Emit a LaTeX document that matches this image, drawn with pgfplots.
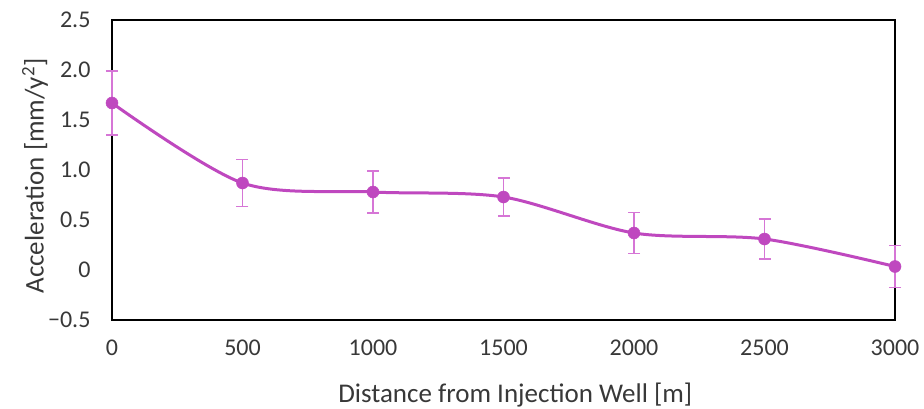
\documentclass[border=0pt]{standalone}
\usepackage{pgfplots}
\pgfplotsset{compat=1.18}
\usepackage{fontspec}
\setmainfont{Carlito}
\definecolor{curve}{RGB}{191,72,191}
\definecolor{errc}{RGB}{214,118,214}
\definecolor{txt}{RGB}{56,56,56}

\begin{document}
\begin{tikzpicture}
% fixed page frame around the plot area
\useasboundingbox (-112pt,-88pt) rectangle (812pt,320pt);
\begin{axis}[
  at={(0pt,0pt)}, anchor=south west,
  scale only axis, width=783pt, height=300pt,
  xmin=0, xmax=3000, ymin=-0.5, ymax=2.5,
  clip=false,
  xtick={0,500,1000,1500,2000,2500,3000},
  xticklabels={0,500,1000,1500,2000,2500,3000},
  ytick={-0.5,0,0.5,1,1.5,2,2.5},
  yticklabels={−0.5,0,0.5,1.0,1.5,2.0,2.5},
  major tick length=0pt,
  axis line style={black, line width=1.3pt},
  tick label style={font=\fontsize{24}{24}\selectfont, text=txt},
  xticklabel style={yshift=-16pt},
  yticklabel style={xshift=-18pt},
  xlabel={Distance from Injection Well [m]},
  ylabel={Acceleration [mm/y\textsuperscript{2}]},
  every axis x label/.style={at={(axis description cs:0.515,-0.25)}, anchor=center,
    font=\fontsize{27}{27}\selectfont, text=txt},
  every axis y label/.style={at={(axis description cs:-0.0983,0.48)}, anchor=center, rotate=90,
    font=\fontsize{27}{27}\selectfont, text=txt},
]
\addplot[curve, line width=3pt, smooth, mark=*, mark size=6pt,
  mark options={fill=curve, draw=curve, line width=0.5pt},
  error bars/.cd, y dir=both, y explicit,
  error bar style={errc, line width=1.2pt},
  error mark options={rotate=90, errc, mark size=6pt, line width=1.2pt}]
  table[x=d, y=a, y error=e] {
  d     a      e
  0     1.67   0.32
  500   0.87   0.235
  1000  0.78   0.21
  1500  0.73   0.19
  2000  0.37   0.205
  2500  0.31   0.20
  3000  0.035  0.21
  };
\end{axis}
\end{tikzpicture}
\end{document}
